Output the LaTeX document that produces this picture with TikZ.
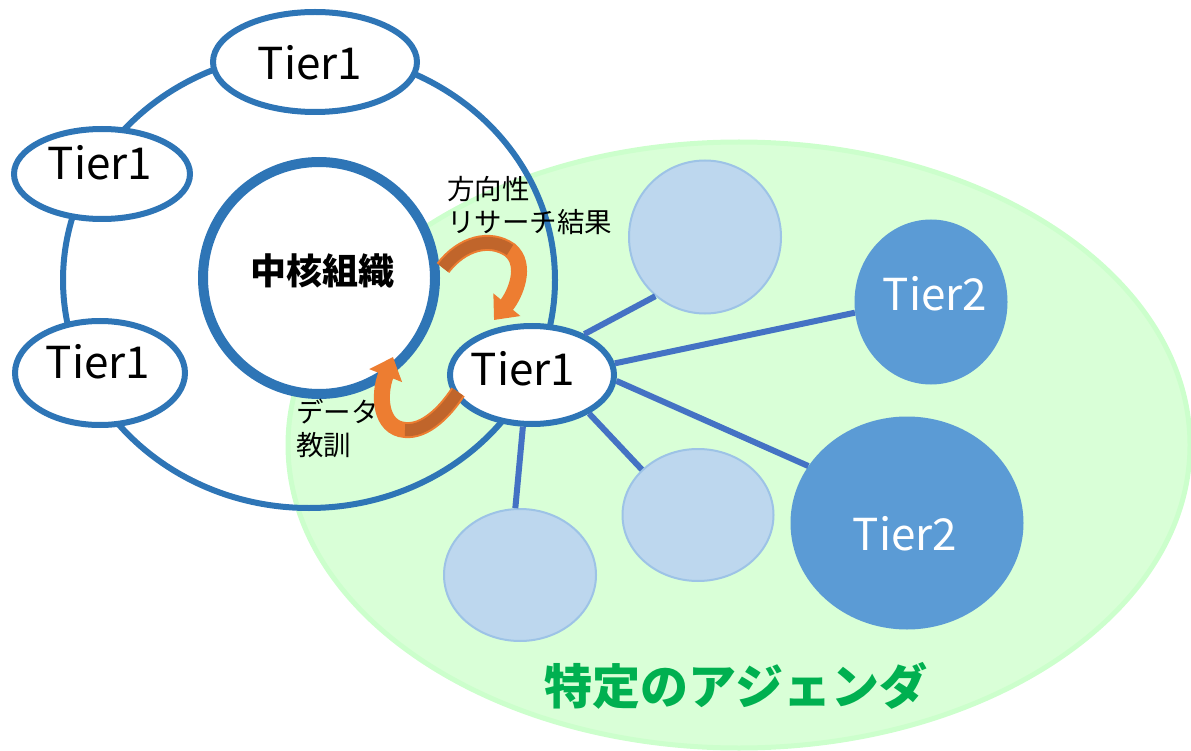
\documentclass[tikz,border=0pt]{standalone}
\usepackage{fontspec}
\setmainfont{Noto Sans CJK JP}
\usetikzlibrary{shapes.geometric,arrows.meta}
\definecolor{ringblue}{HTML}{2E75B6}
\definecolor{linkblue}{HTML}{4472C4}
\definecolor{tiertwo}{HTML}{5B9BD5}
\definecolor{lightfill}{HTML}{BDD7EE}
\definecolor{lightedge}{HTML}{9DC3E6}
\definecolor{agendafill}{RGB}{217,255,215}
\definecolor{agendaedge}{RGB}{204,255,204}
\definecolor{agendatext}{HTML}{00B050}
\definecolor{arroworange}{HTML}{ED7D31}
\definecolor{arrowdark}{HTML}{C0652B}
\begin{document}
\begin{tikzpicture}[x=1pt,y=-1pt,
  oval/.style={ellipse, inner sep=0pt},
  tierone/.style={oval, draw=ringblue, line width=6pt, fill=white},
  corebox/.style={circle, inner sep=0pt, draw=ringblue, line width=10pt, fill=white, minimum size=232pt},
  lightbox/.style={oval, draw=lightedge, line width=2pt, fill=lightfill},
  tiertwobox/.style={oval, fill=tiertwo},
  tiertext/.style={anchor=base, inner sep=0pt, font=\fontsize{44}{44}\selectfont},
  smalllabel/.style={anchor=base west, inner sep=0pt, align=left, font=\fontsize{27.5}{33}\selectfont},
  link/.style={draw=linkblue, line width=6pt},
  orangearrow/.style={draw=arroworange, line width=16pt, -{Triangle[length=20pt,width=34pt]}},
  darkband/.style={draw=arrowdark, line width=12pt}
]
\useasboundingbox (0,0) rectangle (1191,751);
% agenda region
\fill[agendafill, draw=agendaedge, line width=5pt] (739,445) ellipse [x radius=451, y radius=303];
% big ring
\draw[ringblue, line width=6pt] (309,280) ellipse [x radius=246, y radius=228];
% left Tier1 nodes
\node[tierone, minimum width=204pt, minimum height=100pt] (ttop) at (315,62) {};
\node[tierone, minimum width=176pt, minimum height=90pt] (tul) at (102,174) {};
\node[tierone, minimum width=170pt, minimum height=104pt] (tll) at (100,373) {};
% core
\node[corebox] (core) at (319,278) {};
% agenda members
\node[lightbox, minimum width=152pt, minimum height=153pt] (c1) at (705,237) {};
\node[lightbox, minimum width=151pt, minimum height=132pt] (c2) at (698,515) {};
\node[lightbox, minimum width=152pt, minimum height=132pt] (c3) at (520,575) {};
\node[tiertwobox, minimum width=153pt, minimum height=165pt] (t2a) at (931,302) {};
\node[tiertwobox, minimum width=233pt, minimum height=213pt] (t2b) at (907,523) {};
\node[tierone, minimum width=164pt, minimum height=98pt] (t1r) at (532,375) {};
% connectors
\draw[link] (t1r.38) -- (c1.230);
\draw[link] (t1r.8) -- (t2a.188);
\draw[link] (t1r.-4) -- (t2b.150);
\draw[link] (t1r.-34) -- (c2.141);
\draw[link] (t1r.-100) -- (c3.94);
% texts
\node[tiertext] (lttop) at (310,80) {Tier1};
\node[tiertext] (ltul) at (100,180) {Tier1};
\node[tiertext] (ltll) at (98,378) {Tier1};
\node[tiertext] (lt1r) at (523,385) {Tier1};
\node[tiertext, text=white] (lt2a) at (935,310) {Tier2};
\node[tiertext, text=white] (lt2b) at (905,550) {Tier2};
\node[anchor=base, inner sep=0pt, font=\bfseries\fontsize{36}{36}\selectfont] (lcore) at (322,285) {中核組織};
\node[anchor=base, inner sep=0pt, text=agendatext, font=\bfseries\fontsize{48}{48}\selectfont] (lagenda) at (736,704) {特定のアジェンダ};
\node[smalllabel] (ldir) at (447,233) {方向性\\リサーチ結果};
\node[smalllabel] (ldata) at (296,455) {データ\\教訓};
% orange arrows
\coordinate (tailA) at (443,268);
\coordinate (tipA) at (494,320);
\draw[orangearrow] (tailA) .. controls (462,243) and (490,236) .. (510,250) .. controls (528,265) and (515,295) .. (tipA);
\draw[darkband] (tailA) .. controls (462,243) and (490,236) .. (510,250);
\coordinate (tailB) at (458,392);
\coordinate (tipB) at (393,357);
\draw[orangearrow] (tailB) .. controls (445,412) and (425,432) .. (405,430) .. controls (380,428) and (378,395) .. (tipB);
\draw[darkband] (tailB) .. controls (445,412) and (425,432) .. (405,430);
\end{tikzpicture}
\end{document}
